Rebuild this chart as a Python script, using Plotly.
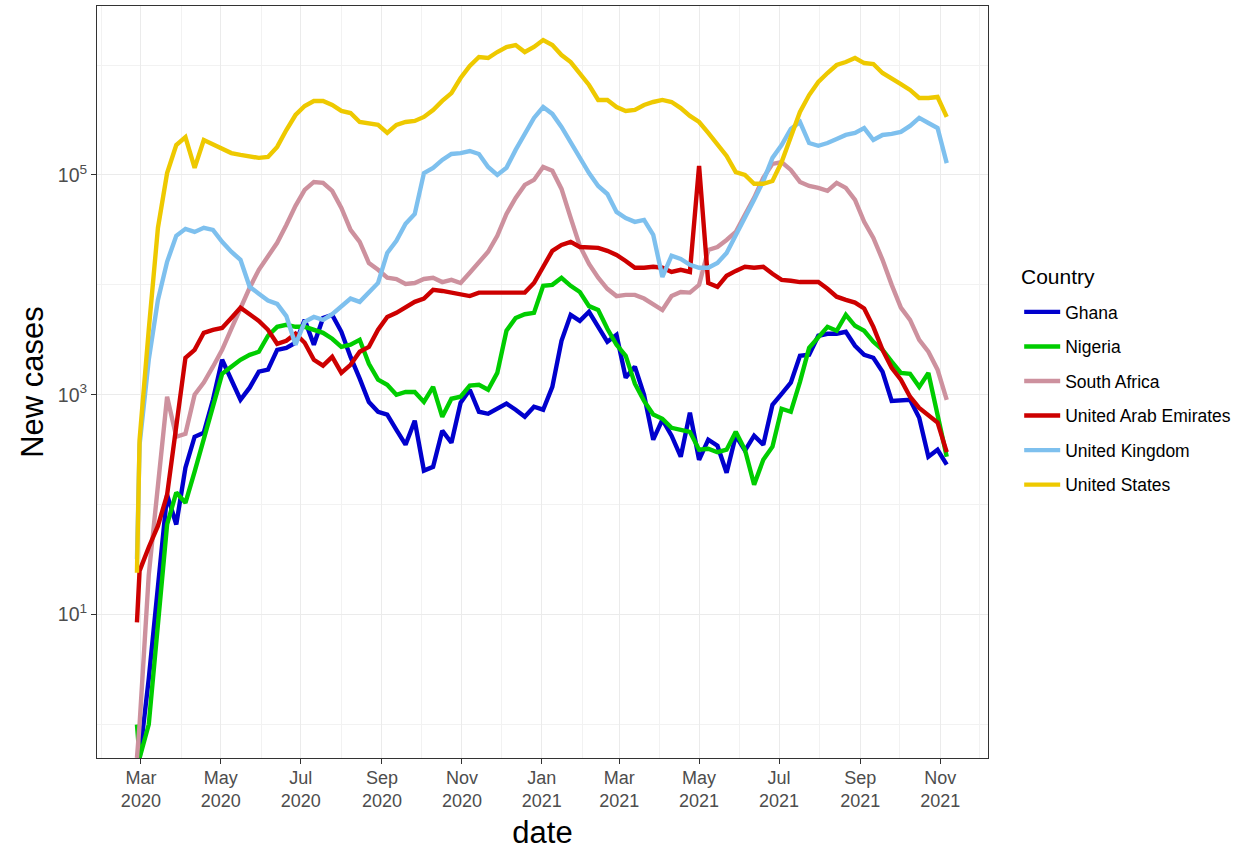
import plotly.graph_objects as go
from datetime import date, timedelta

# ---------------- data ----------------
countries = ["Ghana", "Nigeria", "South Africa", "United Arab Emirates",
             "United Kingdom", "United States"]

first_date = "2020-02-27"
weekly_start = date(2020, 2, 29)
n_weeks = 89
dates = [first_date] + [(weekly_start + timedelta(weeks=i)).isoformat() for i in range(n_weeks)]

ghana = [0, 0, 2.6, 17, 123, 66, 217, 415, 452, 900,
         2080, 1370, 900, 1160, 1620, 1690, 2560, 2670, 2970, 4800,
         2850, 5000, 5330, 3740, 2210, 1400, 860, 700, 660, 480,
         351, 580, 204, 221, 471, 366, 846, 1110, 700, 671,
         746, 830, 731, 630, 778, 731, 1180, 3100, 5330, 4700,
         5690, 4060, 3030, 3510, 1430, 1800, 1000, 390, 593, 424,
         273, 686, 256, 390, 344, 195, 424, 310, 424, 351,
         811, 1020, 1290, 2260, 2310, 3440, 3590, 3590, 3740, 2790,
         2310, 2170, 1620, 880, 880, 900, 618, 273, 316, 231]

nigeria = [1, 0, 1, 7.9, 66, 129, 104, 200, 406, 830,
           1550, 1800, 2080, 2310, 2460, 3440, 4150, 4330, 4150, 4150,
           3900, 3660, 3230, 2730, 2850, 3160, 1910, 1370, 1230, 1000,
           1060, 1060, 860, 1180, 630, 920, 960, 1210, 1230, 1110,
           1580, 3820, 5000, 5400, 5560, 9800, 10000, 11600, 9800, 8600,
           6400, 5900, 3980, 2850, 2260, 1260, 880, 660, 605, 500,
           480, 460, 316, 323, 300, 316, 460, 316, 152, 256,
           337, 746, 700, 1310, 2670, 3370, 4150, 3820, 5330, 4240,
           3820, 3030, 2560, 2000, 1580, 1550, 1180, 1580, 686, 273]

south_africa = [0, 1, 23, 152, 960, 415, 442, 1000, 1290, 1800,
                2560, 3980, 6300, 9400, 13700, 18400, 24100, 35100, 52300, 73100,
                86300, 84600, 71600, 50100, 31600, 24600, 15800, 13700, 11600, 11300,
                10200, 10400, 11300, 11600, 10600, 11100, 10400, 12900, 15800, 20000,
                27900, 44200, 61800, 81100, 90100, 118000, 109000, 74600, 40600, 22600,
                15500, 11600, 9200, 7900, 8100, 8100, 7500, 6700, 5900, 7900,
                8600, 8500, 10000, 20800, 22100, 25600, 30300, 43300, 61800, 94000,
                126000, 131000, 111000, 86300, 79400, 76200, 71600, 84600, 76200, 59300,
                37400, 26700, 16900, 10000, 6200, 4800, 3160, 2460, 1690, 900]

uae = [8.5, 25, 41, 64, 123, 530, 2170, 2560, 3660, 3900,
       4060, 5000, 6200, 5400, 4700, 3900, 2910, 3100, 3590, 2970,
       2080, 1840, 2210, 1580, 1870, 2460, 2730, 3900, 5100, 5560,
       6200, 7000, 7500, 9000, 8800, 8500, 8100, 7900, 8500, 8500,
       8500, 8500, 8500, 8500, 10400, 14300, 20400, 23100, 24600, 22100,
       21700, 21700, 20400, 18700, 16500, 14300, 14300, 14600, 14300, 13100,
       13700, 13100, 121000, 10400, 9600, 12100, 13400, 14600, 14300, 14600,
       12600, 11100, 10900, 10600, 10600, 10600, 9200, 7800, 7300, 6900,
       6100, 4150, 2560, 1760, 1370, 960, 760, 660, 560, 300]

uk = [32, 350, 2080, 7300, 16200, 27900, 32300, 30300, 33000, 31600,
      24600, 20000, 16900, 9600, 8300, 7200, 6700, 5200, 2850, 4600,
      5100, 4800, 5400, 6300, 7500, 7000, 8600, 10400, 19500, 25100,
      35900, 44200, 104000, 116000, 137000, 155000, 158000, 165000, 155000, 118000,
      100000, 116000, 169000, 241000, 330000, 415000, 359000, 273000, 195000, 143000,
      104000, 79400, 67100, 46100, 40600, 37400, 39000, 28500, 11800, 18400,
      17200, 15200, 14300, 14300, 15800, 19500, 27900, 40600, 59300, 88000,
      143000, 187000, 262000, 303000, 195000, 184000, 195000, 212000, 231000, 241000,
      267000, 208000, 231000, 236000, 246000, 279000, 330000, 297000, 267000, 128000]

us = [24, 390, 3900, 33000, 104000, 187000, 221000, 116000, 208000, 191000,
      172000, 158000, 152000, 146000, 143000, 146000, 180000, 256000, 351000, 424000,
      471000, 471000, 433000, 382000, 366000, 303000, 291000, 285000, 241000, 285000,
      303000, 310000, 337000, 390000, 471000, 556000, 762000, 979000, 1183000, 1158000,
      1313000, 1458000, 1520000, 1313000, 1458000, 1687000, 1520000, 1233000, 1065000, 846000,
      658000, 481000, 481000, 415000, 382000, 390000, 433000, 461000, 481000, 461000,
      406000, 344000, 303000, 241000, 187000, 149000, 106000, 100000, 83000, 83000,
      88000, 131000, 221000, 374000, 533000, 700000, 846000, 1000000, 1065000, 1158000,
      1042000, 1021000, 846000, 762000, 671000, 593000, 501000, 501000, 512000, 337000]

series = [ghana, nigeria, south_africa, uae, uk, us]
colors = ["#0000CD", "#00CD00", "#CD919E", "#CD0000", "#7EC0EE", "#EEC900"]

x_tick_vals = ["2020-03-01", "2020-05-01", "2020-07-01", "2020-09-01", "2020-11-01",
               "2021-01-01", "2021-03-01", "2021-05-01", "2021-07-01", "2021-09-01",
               "2021-11-01"]
x_tick_text = ["Mar<br>2020", "May<br>2020", "Jul<br>2020", "Sep<br>2020", "Nov<br>2020",
               "Jan<br>2021", "Mar<br>2021", "May<br>2021", "Jul<br>2021", "Sep<br>2021",
               "Nov<br>2021"]
x_minor_vals = ["2020-01-31", "2020-04-01", "2020-06-01", "2020-08-01", "2020-10-01",
                "2020-12-01", "2021-02-01", "2021-04-01", "2021-06-01", "2021-08-01",
                "2021-10-01", "2021-12-01"]
y_tick_vals = [10, 1000, 100000]
y_tick_text = ["10<sup>1</sup>", "10<sup>3</sup>", "10<sup>5</sup>"]
y_minor_vals = [1, 100, 10000, 1000000]
legend_title = "Country"

# ---------------- figure ----------------
Y_LOW, Y_HIGH = -0.305, 6.537
FONT = "Liberation Sans, Arial, sans-serif"

fig = go.Figure()
for name, vals, col in zip(countries, series, colors):
    # zero counts become -Inf on a log scale: drawn on the panel's bottom edge
    plot_vals = [v if v > 0 else 10 ** Y_LOW for v in vals]
    fig.add_trace(go.Scatter(
        x=dates, y=plot_vals, mode="lines", name=name, legendgroup=name,
        line=dict(color=col, width=4.4, shape="linear"),
        customdata=vals, hovertemplate="%{x}<br>%{customdata}<extra>" + name + "</extra>",
    ))

fig.update_layout(
    width=1244, height=852,
    margin=dict(l=97, r=256, t=6, b=94),
    paper_bgcolor="white", plot_bgcolor="white",
    font=dict(family=FONT, color="#000000"),
    showlegend=True,
    legend=dict(
        font=dict(size=17.5, color="#000000"),
        x=1.035, xanchor="left", y=0.617, yanchor="top",
        tracegroupgap=8.8, itemwidth=36,
        bgcolor="rgba(0,0,0,0)",
    ),
    annotations=[dict(
        text=legend_title, xref="paper", yref="paper",
        x=(1019 - 97) / 891, y=1 - (276 - 6) / 752,
        xanchor="left", yanchor="middle", showarrow=False,
        font=dict(size=21, color="#000000", family=FONT),
    )],
)

fig.update_xaxes(
    type="date",
    range=["2020-01-27 12:00", "2021-12-07 12:00"],
    tickmode="array", tickvals=x_tick_vals, ticktext=x_tick_text,
    tickfont=dict(size=18, color="#4D4D4D", family=FONT),
    ticks="outside", ticklen=5, tickwidth=1, tickcolor="#333333",
    ticklabelstandoff=-2,
    showgrid=True, gridcolor="#EBEBEB", gridwidth=1.1,
    minor=dict(tickvals=x_minor_vals, showgrid=True, gridcolor="#F2F2F2", gridwidth=0.6, ticks=""),
    showline=True, linecolor="#333333", linewidth=1, mirror=True,
    zeroline=False,
    title=dict(text="date", font=dict(size=31, color="#000000"), standoff=11),
    automargin=False,
)
fig.update_yaxes(
    type="log",
    range=[Y_LOW, Y_HIGH],
    tickmode="array", tickvals=y_tick_vals, ticktext=y_tick_text,
    tickfont=dict(size=19.5, color="#4D4D4D", family=FONT),
    ticks="outside", ticklen=5, tickwidth=1, tickcolor="#333333",
    showgrid=True, gridcolor="#EBEBEB", gridwidth=1.1,
    minor=dict(tickvals=y_minor_vals, showgrid=True, gridcolor="#F2F2F2", gridwidth=0.6, ticks=""),
    showline=True, linecolor="#333333", linewidth=1, mirror=True,
    zeroline=False,
    title=dict(text="New cases", font=dict(size=31, color="#000000"), standoff=4),
    automargin=False,
)

fig.write_html("out.html", config={"displayModeBar": False},
               post_script="document.body.style.margin='0';")
